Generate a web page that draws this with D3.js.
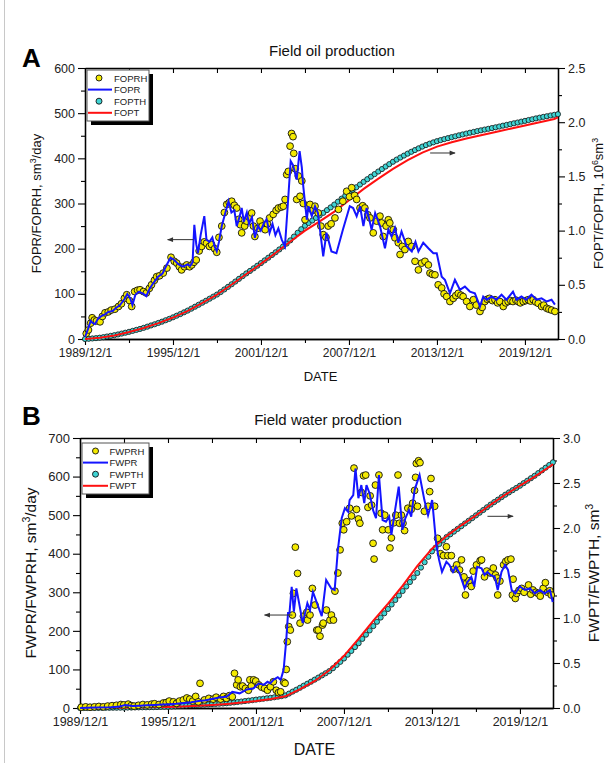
<!DOCTYPE html>
<html>
<head>
<meta charset="utf-8">
<script src="https://cdn.jsdelivr.net/npm/d3@7"></script>
<style>
body { margin: 0; background: #fff; }
text { font-family: "Liberation Sans", Arial, sans-serif; }
</style>
</head>
<body>
<script>
// ---- data (dates as decimal years, 1989/12/1 = 1989.915) ----
var xStart = 1989.915, xEnd = 2022.17;
var majorYears = [1989.915, 1995.915, 2001.915, 2007.915, 2013.915, 2019.915];
var minorYears = [1992.915, 1998.915, 2004.915, 2010.915, 2016.915];
var dateLabels = ["1989/12/1", "1995/12/1", "2001/12/1", "2007/12/1", "2013/12/1", "2019/12/1"];

// history cumulative series are quarterly, starting at 1989/12/1
var cumStart = 1989.915, cumStep = 0.25;

// Field oil production
var foprh = [[1990.0,12],[1990.15,20],[1990.3,35],[1990.4,47],[1990.55,42],[1990.7,40],[1990.94,38],[1991.1,50],[1991.28,58],[1991.5,60],[1991.7,64],[1991.95,66],[1992.2,72],[1992.4,78],[1992.6,90],[1992.76,98],[1992.95,85],[1993.1,72],[1993.3,105],[1993.5,108],[1993.67,109],[1993.9,105],[1994.1,102],[1994.3,112],[1994.45,120],[1994.65,130],[1994.8,138],[1995.0,140],[1995.25,146],[1995.5,157],[1995.78,181],[1996.0,172],[1996.17,168],[1996.35,160],[1996.5,153],[1996.7,160],[1996.85,164],[1997.05,160],[1997.2,164],[1997.35,170],[1997.5,175],[1997.7,195],[1997.87,205],[1998.05,215],[1998.2,212],[1998.4,205],[1998.55,209],[1998.75,200],[1998.9,192],[1999.05,225],[1999.24,250],[1999.42,280],[1999.58,298],[1999.75,302],[1999.92,305],[2000.1,296],[2000.26,290],[2000.4,265],[2000.5,253],[2000.6,235],[2000.8,250],[2000.94,261],[2001.1,270],[2001.28,279],[2001.4,250],[2001.5,227],[2001.7,245],[2001.85,261],[2002.0,250],[2002.2,242],[2002.35,255],[2002.5,268],[2002.75,276],[2002.95,285],[2003.1,290],[2003.3,292],[2003.44,294],[2003.56,309],[2003.67,364],[2003.78,371],[2003.9,427],[2004.0,455],[2004.1,448],[2004.15,411],[2004.25,377],[2004.35,309],[2004.46,361],[2004.58,316],[2004.7,350],[2004.8,300],[2004.92,264],[2005.15,290],[2005.26,298],[2005.45,285],[2005.6,294],[2005.82,279],[2006.0,250],[2006.16,231],[2006.35,225],[2006.5,250],[2006.7,255],[2006.96,268],[2007.2,287],[2007.5,305],[2007.76,327],[2007.95,315],[2008.1,335],[2008.3,318],[2008.44,309],[2008.67,290],[2008.85,295],[2009.0,290],[2009.2,275],[2009.35,268],[2009.57,235],[2009.8,261],[2010.03,272],[2010.14,257],[2010.25,227],[2010.45,250],[2010.6,264],[2010.7,257],[2010.94,242],[2011.05,224],[2011.28,213],[2011.4,187],[2011.55,205],[2011.73,198],[2011.96,216],[2012.2,205],[2012.42,172],[2012.65,153],[2012.87,168],[2013.1,172],[2013.33,164],[2013.44,146],[2013.6,143],[2013.78,142],[2014.0,120],[2014.24,113],[2014.4,100],[2014.58,94],[2014.8,83],[2015.03,90],[2015.2,96],[2015.37,101],[2015.55,97],[2015.7,94],[2015.94,83],[2016.16,72],[2016.4,87],[2016.6,75],[2016.85,61],[2017.0,70],[2017.18,83],[2017.35,88],[2017.5,90],[2017.7,85],[2017.87,87],[2018.05,80],[2018.2,83],[2018.44,72],[2018.6,80],[2018.77,83],[2018.95,85],[2019.1,83],[2019.3,86],[2019.45,83],[2019.6,80],[2019.8,83],[2019.98,85],[2020.14,87],[2020.3,84],[2020.48,87],[2020.65,82],[2020.82,79],[2021.05,72],[2021.2,75],[2021.4,68],[2021.55,66],[2021.73,64],[2021.96,61]];

var fopr = [[1989.92,5],[1990.1,20],[1990.3,40],[1990.45,35],[1990.6,33],[1990.8,45],[1991.0,50],[1991.3,55],[1991.5,60],[1991.8,62],[1992.0,68],[1992.3,75],[1992.6,88],[1992.8,100],[1993.0,90],[1993.15,75],[1993.35,98],[1993.6,105],[1993.9,100],[1994.1,95],[1994.3,110],[1994.6,125],[1994.9,138],[1995.2,145],[1995.5,165],[1995.75,180],[1996.0,175],[1996.3,165],[1996.6,160],[1996.9,165],[1997.1,162],[1997.25,170],[1997.37,253],[1997.5,210],[1997.62,190],[1997.8,230],[1998.05,272],[1998.2,220],[1998.4,215],[1998.6,225],[1998.75,205],[1998.9,194],[1999.05,215],[1999.24,250],[1999.45,275],[1999.7,305],[1999.9,280],[2000.1,285],[2000.26,250],[2000.45,270],[2000.6,290],[2000.75,260],[2000.95,280],[2001.1,255],[2001.3,270],[2001.5,224],[2001.7,250],[2001.9,240],[2002.1,255],[2002.3,265],[2002.5,235],[2002.7,255],[2002.9,230],[2003.1,245],[2003.33,220],[2003.55,205],[2003.75,300],[2003.94,394],[2004.1,385],[2004.35,353],[2004.55,416],[2004.7,380],[2004.8,338],[2005.04,264],[2005.15,294],[2005.38,272],[2005.6,294],[2005.8,279],[2006.16,183],[2006.38,235],[2006.72,194],[2007.06,190],[2007.5,242],[2007.97,294],[2008.2,290],[2008.44,272],[2008.67,294],[2008.9,250],[2009.12,290],[2009.46,242],[2009.7,279],[2010.03,250],[2010.37,201],[2010.6,242],[2010.82,227],[2011.05,246],[2011.28,213],[2011.5,238],[2011.85,205],[2012.2,194],[2012.45,215],[2012.65,194],[2012.98,213],[2013.33,201],[2013.67,190],[2013.9,190],[2014.24,138],[2014.46,131],[2014.8,101],[2015.14,131],[2015.48,109],[2015.82,116],[2016.16,105],[2016.5,101],[2016.85,72],[2017.07,94],[2017.3,87],[2017.64,94],[2017.98,87],[2018.32,98],[2018.66,87],[2019.1,105],[2019.34,87],[2019.68,94],[2020.0,87],[2020.36,98],[2020.7,87],[2021.05,90],[2021.4,83],[2021.73,87],[2021.96,76]];

// quarterly, 10^6 sm3
var fopth = [0.000,0.002,0.005,0.008, 0.012,0.017,0.023,0.029, 0.035,0.042,0.050,0.058, 0.066,0.075,0.084,0.093,
  0.103,0.114,0.125,0.136, 0.148,0.160,0.173,0.186, 0.200,0.215,0.230,0.246, 0.262,0.280,0.298,0.316,
  0.335,0.353,0.372,0.391, 0.410,0.433,0.457,0.481, 0.505,0.530,0.555,0.580, 0.605,0.628,0.652,0.676,
  0.700,0.725,0.750,0.775, 0.800,0.826,0.853,0.880, 0.910,0.945,0.980,1.013, 1.045,1.070,1.093,1.117,
  1.140,1.164,1.189,1.214, 1.240,1.267,1.295,1.322, 1.350,1.375,1.400,1.425, 1.450,1.474,1.498,1.521,
  1.545,1.568,1.591,1.613, 1.635,1.655,1.674,1.692, 1.710,1.727,1.743,1.759, 1.775,1.789,1.802,1.814,
  1.825,1.835,1.844,1.853, 1.862,1.870,1.879,1.887, 1.895,1.903,1.910,1.918, 1.925,1.932,1.939,1.946,
  1.953,1.960,1.968,1.975, 1.982,1.990,1.997,2.005, 2.012,2.020,2.027,2.035, 2.042,2.049,2.055,2.062,
  2.068,2.074];

var fopt = [[1989.92,0],[1990.92,0.011],[1991.92,0.033],[1992.92,0.064],[1993.92,0.101],[1994.92,0.146],[1995.92,0.198],[1996.92,0.26],[1997.92,0.333],[1998.92,0.41],[1999.92,0.503],[2000.92,0.6],[2001.92,0.695],[2002.92,0.795],[2003.92,0.9],[2004.92,1.0],[2005.92,1.085],[2006.92,1.175],[2007.92,1.28],[2008.92,1.385],[2009.92,1.48],[2010.92,1.57],[2011.92,1.65],[2012.92,1.72],[2013.92,1.775],[2014.92,1.815],[2015.92,1.85],[2016.92,1.88],[2017.92,1.91],[2018.92,1.94],[2019.92,1.97],[2020.92,2.0],[2021.92,2.03],[2022.17,2.045]];

// Field water production
var fwprh = [[1990.0,2],[1990.3,3],[1990.6,2],[1990.9,3],[1991.2,4],[1991.5,3],[1991.8,5],[1992.1,6],[1992.4,7],[1992.7,9],[1992.9,8],[1993.2,10],[1993.4,6],[1993.6,5],[1993.9,7],[1994.2,9],[1994.5,8],[1994.8,10],[1995.0,11],[1995.3,9],[1995.6,13],[1995.8,14],[1996.0,18],[1996.28,16],[1996.5,12],[1996.7,18],[1996.96,21],[1997.2,26],[1997.4,23],[1997.6,18],[1997.8,30],[1997.98,16],[1998.1,64],[1998.4,21],[1998.7,25],[1999.0,23],[1999.2,28],[1999.5,23],[1999.7,30],[1999.9,25],[2000.1,32],[2000.3,29],[2000.45,90],[2000.6,60],[2000.7,73],[2000.85,55],[2001.0,57],[2001.2,51],[2001.4,46],[2001.5,73],[2001.6,57],[2001.75,73],[2001.9,70],[2002.1,60],[2002.3,54],[2002.5,51],[2002.7,46],[2002.9,55],[2003.1,68],[2003.3,46],[2003.45,40],[2003.6,42],[2003.8,67],[2003.9,64],[2003.98,100],[2004.05,172],[2004.15,211],[2004.26,202],[2004.4,241],[2004.47,297],[2004.6,417],[2004.75,349],[2004.92,220],[2005.15,238],[2005.38,248],[2005.43,228],[2005.6,241],[2005.76,310],[2005.94,267],[2006.06,202],[2006.16,202],[2006.28,186],[2006.45,215],[2006.5,220],[2006.72,254],[2006.96,228],[2007.06,241],[2007.2,228],[2007.3,303],[2007.5,350],[2007.65,410],[2007.8,479],[2007.9,462],[2008.1,483],[2008.3,518],[2008.43,498],[2008.6,622],[2008.77,515],[2008.9,490],[2009.0,479],[2009.1,559],[2009.25,602],[2009.4,604],[2009.55,520],[2009.7,550],[2009.8,526],[2009.9,427],[2009.97,386],[2010.06,578],[2010.3,604],[2010.45,505],[2010.55,462],[2010.7,500],[2010.94,462],[2011.05,415],[2011.15,441],[2011.3,480],[2011.45,500],[2011.6,604],[2011.7,479],[2011.83,500],[2011.94,479],[2012.05,460],[2012.27,518],[2012.5,515],[2012.6,531],[2012.73,564],[2012.8,598],[2012.85,634],[2012.93,523],[2013.0,641],[2013.1,636],[2013.4,510],[2013.65,523],[2013.76,561],[2013.85,595],[2014.1,523],[2014.3,440],[2014.5,400],[2014.7,395],[2014.9,418],[2015.0,395],[2015.24,395],[2015.4,360],[2015.6,371],[2015.8,358],[2015.93,384],[2016.1,340],[2016.2,293],[2016.27,323],[2016.45,330],[2016.6,315],[2016.73,355],[2016.95,371],[2017.2,382],[2017.3,384],[2017.5,340],[2017.65,355],[2017.9,350],[2018.1,363],[2018.25,345],[2018.35,337],[2018.4,293],[2018.55,329],[2018.8,371],[2018.95,380],[2019.1,384],[2019.3,386],[2019.4,293],[2019.45,334],[2019.6,284],[2019.7,297],[2019.85,305],[2020.03,310],[2020.2,300],[2020.5,319],[2020.65,295],[2020.8,306],[2021.0,300],[2021.15,297],[2021.3,290],[2021.5,310],[2021.65,325],[2021.8,300],[2021.95,304],[2022.05,293]];

var fwpr = [[1989.92,0],[1991.0,1],[1992.0,2],[1992.5,3],[1993.0,8],[1993.5,5],[1994.0,6],[1994.5,7],[1995.0,8],[1995.5,9],[1996.0,10],[1996.5,11],[1997.0,13],[1997.5,15],[1998.0,18],[1998.5,20],[1999.0,24],[1999.5,28],[1999.9,29],[2000.3,42],[2000.8,38],[2001.3,48],[2001.75,51],[2002.1,64],[2002.45,60],[2002.7,68],[2002.9,64],[2003.1,73],[2003.4,80],[2003.6,73],[2003.8,99],[2003.98,176],[2004.1,246],[2004.2,246],[2004.35,314],[2004.5,250],[2004.67,310],[2004.9,263],[2005.1,220],[2005.42,272],[2005.6,254],[2005.8,301],[2006.16,263],[2006.4,238],[2006.7,332],[2007.05,310],[2007.28,306],[2007.5,410],[2007.76,492],[2007.98,518],[2008.2,509],[2008.3,539],[2008.55,552],[2008.7,621],[2008.9,544],[2009.1,578],[2009.3,531],[2009.45,578],[2009.66,557],[2009.9,513],[2010.1,492],[2010.3,604],[2010.55,487],[2010.78,483],[2011.0,496],[2011.15,449],[2011.4,513],[2011.65,574],[2011.9,462],[2012.1,492],[2012.35,513],[2012.5,496],[2012.73,565],[2013.07,604],[2013.4,539],[2013.65,500],[2013.93,539],[2014.2,427],[2014.4,384],[2014.6,353],[2014.9,379],[2015.1,371],[2015.35,353],[2015.55,366],[2015.8,349],[2016.14,310],[2016.35,327],[2016.6,340],[2016.8,315],[2017.0,366],[2017.3,362],[2017.5,345],[2017.7,353],[2017.9,345],[2018.2,340],[2018.4,306],[2018.66,353],[2018.9,371],[2019.1,358],[2019.35,306],[2019.6,297],[2019.9,315],[2020.26,306],[2020.6,310],[2020.94,297],[2021.3,306],[2021.6,297],[2021.96,306],[2022.15,275]];

var fwpth = [0.000,0.000,0.000,0.001, 0.001,0.001,0.002,0.002, 0.002,0.003,0.003,0.004, 0.004,0.005,0.005,0.006,
  0.007,0.008,0.008,0.009, 0.010,0.011,0.013,0.014, 0.015,0.017,0.019,0.022, 0.025,0.027,0.029,0.031,
  0.033,0.036,0.038,0.041, 0.043,0.045,0.048,0.050, 0.053,0.058,0.062,0.067, 0.072,0.077,0.082,0.087,
  0.093,0.098,0.103,0.108, 0.113,0.119,0.126,0.132, 0.140,0.160,0.182,0.203, 0.225,0.248,0.270,0.292,
  0.315,0.338,0.362,0.386, 0.410,0.442,0.478,0.513, 0.550,0.592,0.634,0.677, 0.720,0.768,0.815,0.862,
  0.910,0.958,1.005,1.052, 1.100,1.150,1.200,1.250, 1.300,1.350,1.400,1.450, 1.500,1.560,1.620,1.680,
  1.740,1.782,1.822,1.861, 1.900,1.930,1.960,1.990, 2.020,2.050,2.080,2.110, 2.140,2.170,2.200,2.230,
  2.260,2.288,2.315,2.343, 2.370,2.395,2.420,2.445, 2.470,2.498,2.525,2.553, 2.580,2.610,2.640,2.670,
  2.700,2.730];

var fwpt = [[1989.92,0],[1990.92,0.001],[1991.92,0.002],[1992.92,0.003],[1993.92,0.005],[1994.92,0.008],[1995.92,0.012],[1996.92,0.017],[1997.92,0.024],[1998.92,0.033],[1999.92,0.045],[2000.92,0.06],[2001.92,0.078],[2002.92,0.1],[2003.92,0.13],[2004.92,0.21],[2005.92,0.3],[2006.92,0.42],[2007.92,0.58],[2008.92,0.77],[2009.92,0.97],[2010.92,1.16],[2011.92,1.36],[2012.92,1.58],[2013.92,1.77],[2014.92,1.91],[2015.92,2.03],[2016.92,2.14],[2017.92,2.26],[2018.92,2.37],[2019.92,2.47],[2020.92,2.57],[2021.92,2.68],[2022.17,2.71]];

// ---- drawing ----
var W = 611, H = 763;
var FONT = '"Liberation Sans", Arial, sans-serif';
var svg = d3.select("body").append("svg").attr("width", W).attr("height", H);
svg.append("rect").attr("width", W).attr("height", H).attr("fill", "#fff");
svg.append("line").attr("x1", 4.5).attr("x2", 4.5).attr("y1", 0).attr("y2", H)
  .attr("stroke", "#c8c8c8").attr("stroke-width", 1);

svg.append("defs").append("marker")
  .attr("id", "arrow").attr("viewBox", "0 0 10 10").attr("refX", 9).attr("refY", 5)
  .attr("markerWidth", 7).attr("markerHeight", 6).attr("markerUnits", "userSpaceOnUse")
  .attr("orient", "auto")
  .append("path").attr("d", "M0,1 L10,5 L0,9 Z").attr("fill", "#333");

function cumPoints(vals) {
  return vals.map(function (v, i) { return [cumStart + i * cumStep, v]; });
}

function drawPanel(p) {
  var x = d3.scaleLinear().domain([xStart, xEnd]).range([p.left, p.right]);
  var yL = d3.scaleLinear().domain([0, p.leftMax]).range([p.bottom, p.top]);
  var yR = d3.scaleLinear().domain([0, p.rightMax]).range([p.bottom, p.top]);
  var g = svg.append("g");

  function styleAxis(sel, fs) {
    sel.attr("font-family", FONT).attr("font-size", fs).attr("color", "#000");
    sel.select(".domain").attr("stroke-width", 1.3);
    sel.selectAll(".tick line").attr("stroke-width", 1.1);
    sel.selectAll("text").attr("fill", "#222");
  }

  // bottom
  styleAxis(g.append("g").attr("transform", "translate(0," + p.bottom + ")")
    .call(d3.axisBottom(x).tickValues(majorYears).tickFormat(function (d, i) { return dateLabels[i]; })
      .tickSize(6).tickSizeOuter(0).tickPadding(3)), p.xFont);
  styleAxis(g.append("g").attr("transform", "translate(0," + p.bottom + ")")
    .call(d3.axisBottom(x).tickValues(minorYears).tickFormat("").tickSize(4).tickSizeOuter(0)), p.xFont);
  // top
  styleAxis(g.append("g").attr("transform", "translate(0," + p.top + ")")
    .call(d3.axisTop(x).tickValues(majorYears.concat(minorYears)).tickFormat("").tickSize(-5).tickSizeOuter(0)), p.xFont);
  // left
  styleAxis(g.append("g").attr("transform", "translate(" + p.left + ",0)")
    .call(d3.axisLeft(yL).tickValues(p.leftTicks).tickFormat(d3.format("d")).tickSize(7).tickSizeOuter(0).tickPadding(3)), p.yFont);
  styleAxis(g.append("g").attr("transform", "translate(" + p.left + ",0)")
    .call(d3.axisLeft(yL).tickValues(p.leftMinor).tickFormat("").tickSize(4).tickSizeOuter(0)), p.yFont);
  // right
  styleAxis(g.append("g").attr("transform", "translate(" + p.right + ",0)")
    .call(d3.axisRight(yR).tickValues(p.rightTicks).tickFormat(d3.format(".1f")).tickSize(7).tickSizeOuter(0).tickPadding(3)), p.rFont);
  styleAxis(g.append("g").attr("transform", "translate(" + p.right + ",0)")
    .call(d3.axisRight(yR).tickValues(p.rightMinor).tickFormat("").tickSize(4).tickSizeOuter(0)), p.rFont);

  // cumulative history markers
  g.append("g").selectAll("circle").data(cumPoints(p.cumH)).join("circle")
    .attr("cx", function (d) { return x(d[0]); })
    .attr("cy", function (d) { return yR(d[1]); })
    .attr("r", 2.6).attr("fill", "#3fd4d4").attr("stroke", "#111").attr("stroke-width", 0.8);
  // cumulative simulated line
  g.append("path").datum(p.cumS)
    .attr("d", d3.line().x(function (d) { return x(d[0]); }).y(function (d) { return yR(d[1]); }))
    .attr("fill", "none").attr("stroke", "#ff1010").attr("stroke-width", 2);
  // rate history markers
  g.append("g").selectAll("circle").data(p.rateH).join("circle")
    .attr("cx", function (d) { return x(d[0]); })
    .attr("cy", function (d) { return yL(d[1]); })
    .attr("r", 3.4).attr("fill", "#f4ea00").attr("stroke", "#111").attr("stroke-width", 0.9);
  // rate simulated line
  g.append("path").datum(p.rateS)
    .attr("d", d3.line().x(function (d) { return x(d[0]); }).y(function (d) { return yL(d[1]); }))
    .attr("fill", "none").attr("stroke", "#1414ff").attr("stroke-width", 2);

  // arrows
  p.arrows.forEach(function (a) {
    var y = a.axis === "left" ? yL : yR;
    g.append("line")
      .attr("x1", x(a.from[0])).attr("y1", y(a.from[1]))
      .attr("x2", x(a.to[0])).attr("y2", y(a.to[1]))
      .attr("stroke", "#333").attr("stroke-width", 1).attr("marker-end", "url(#arrow)");
  });

  // legend
  var lg = p.legend;
  g.append("rect").attr("x", lg.x + 4).attr("y", lg.y + 4).attr("width", lg.w).attr("height", lg.h).attr("fill", "#000");
  g.append("rect").attr("x", lg.x).attr("y", lg.y).attr("width", lg.w).attr("height", lg.h)
    .attr("fill", "#fff").attr("stroke", "#555").attr("stroke-width", 1);
  lg.items.forEach(function (it, i) {
    var yy = lg.y + 8 + i * lg.step;
    if (it.type === "dot") {
      g.append("circle").attr("cx", lg.x + lg.sym).attr("cy", yy).attr("r", 3)
        .attr("fill", it.color).attr("stroke", "#111").attr("stroke-width", 0.9);
    } else {
      g.append("line").attr("x1", lg.x + 1).attr("x2", lg.x + lg.lineEnd).attr("y1", yy).attr("y2", yy)
        .attr("stroke", it.color).attr("stroke-width", 2);
    }
    g.append("text").attr("x", lg.x + lg.textX).attr("y", yy + 3.5)
      .attr("font-size", lg.font).attr("fill", "#222").text(it.name);
  });

  // panel letter and title
  g.append("text").attr("x", p.letterX).attr("y", p.letterY).attr("font-size", 26)
    .attr("font-weight", "bold").attr("fill", "#000").text(p.letter);
  g.append("text").attr("x", p.titleX).attr("y", p.titleY).attr("text-anchor", "middle")
    .attr("font-size", 15).attr("fill", "#111").text(p.title);

  // axis titles
  g.append("text").attr("x", (p.left + p.right) / 2 + p.dateDx).attr("y", p.dateY)
    .attr("text-anchor", "middle").attr("font-size", p.dateFont).attr("fill", "#111").text("DATE");

  var cy = (p.top + p.bottom) / 2;
  var lt = g.append("text").attr("transform", "translate(" + p.leftLabelX + "," + cy + ") rotate(-90)")
    .attr("text-anchor", "middle").attr("font-size", p.labelFont).attr("fill", "#111");
  addParts(lt, p.leftLabel, p.labelFont);
  var rt = g.append("text").attr("transform", "translate(" + p.rightLabelX + "," + cy + ") rotate(-90)")
    .attr("text-anchor", "middle").attr("font-size", p.labelFont).attr("fill", "#111");
  addParts(rt, p.rightLabel, p.labelFont);
}

// label parts: plain strings, or ["sup", text]
function addParts(t, parts, fs) {
  var up = false;
  parts.forEach(function (pt) {
    if (typeof pt === "string") {
      t.append("tspan").attr("dy", up ? fs * 0.38 : 0).text(pt);
      up = false;
    } else {
      t.append("tspan").attr("dy", up ? 0 : -fs * 0.38).attr("font-size", fs * 0.68).text(pt[1]);
      up = true;
    }
  });
}

drawPanel({
  left: 85, right: 558, top: 68, bottom: 339,
  leftMax: 600, rightMax: 2.5,
  leftTicks: [0, 100, 200, 300, 400, 500, 600], leftMinor: [50, 150, 250, 350, 450, 550],
  rightTicks: [0, 0.5, 1.0, 1.5, 2.0, 2.5], rightMinor: [0.25, 0.75, 1.25, 1.75, 2.25],
  xFont: 12, yFont: 12.5, rFont: 12.5,
  rateH: foprh, rateS: fopr, cumH: fopth, cumS: fopt,
  arrows: [
    { axis: "left", from: [1997.3, 220], to: [1995.55, 220] },
    { axis: "right", from: [2013.45, 1.716], to: [2015.15, 1.716] }
  ],
  legend: { x: 87, y: 70, w: 62, h: 51, step: 11.6, sym: 12, lineEnd: 25, textX: 27, font: 9.5,
    items: [{ name: "FOPRH", type: "dot", color: "#f4ea00" }, { name: "FOPR", type: "line", color: "#1414ff" },
            { name: "FOPTH", type: "dot", color: "#3fd4d4" }, { name: "FOPT", type: "line", color: "#ff1010" }] },
  letter: "A", letterX: 22, letterY: 67,
  title: "Field oil production", titleX: 332, titleY: 56,
  dateY: 381, dateFont: 13, dateDx: -1,
  labelFont: 13, leftLabelX: 41, rightLabelX: 603,
  leftLabel: ["FOPR/FOPRH, sm", ["sup", "3"], "/day"],
  rightLabel: ["FOPT/FOPTH, 10", ["sup", "6"], "sm", ["sup", "3"]]
});

drawPanel({
  left: 80, right: 553, top: 438, bottom: 708,
  leftMax: 700, rightMax: 3.0,
  leftTicks: [0, 100, 200, 300, 400, 500, 600, 700], leftMinor: [50, 150, 250, 350, 450, 550, 650],
  rightTicks: [0, 0.5, 1.0, 1.5, 2.0, 2.5, 3.0], rightMinor: [0.25, 0.75, 1.25, 1.75, 2.25, 2.75],
  xFont: 12.5, yFont: 13, rFont: 12.5,
  rateH: fwprh, rateS: fwpr, cumH: fwpth, cumS: fwpt,
  arrows: [
    { axis: "left", from: [2004.4, 241], to: [2002.5, 241] },
    { axis: "right", from: [2017.7, 2.13], to: [2019.45, 2.13] }
  ],
  legend: { x: 82, y: 443, w: 67, h: 51, step: 11.6, sym: 13.5, lineEnd: 26, textX: 27.5, font: 9.5,
    items: [{ name: "FWPRH", type: "dot", color: "#f4ea00" }, { name: "FWPR", type: "line", color: "#1414ff" },
            { name: "FWPTH", type: "dot", color: "#3fd4d4" }, { name: "FWPT", type: "line", color: "#ff1010" }] },
  letter: "B", letterX: 22, letterY: 425,
  title: "Field water production", titleX: 328, titleY: 425,
  dateY: 755, dateFont: 16, dateDx: -2,
  labelFont: 15.5, leftLabelX: 36, rightLabelX: 599,
  leftLabel: ["FWPR/FWPRH, sm", ["sup", "3"], "/day"],
  rightLabel: ["FWPT/FWPTH, sm", ["sup", "3"]]
});
</script>
</body>
</html>
